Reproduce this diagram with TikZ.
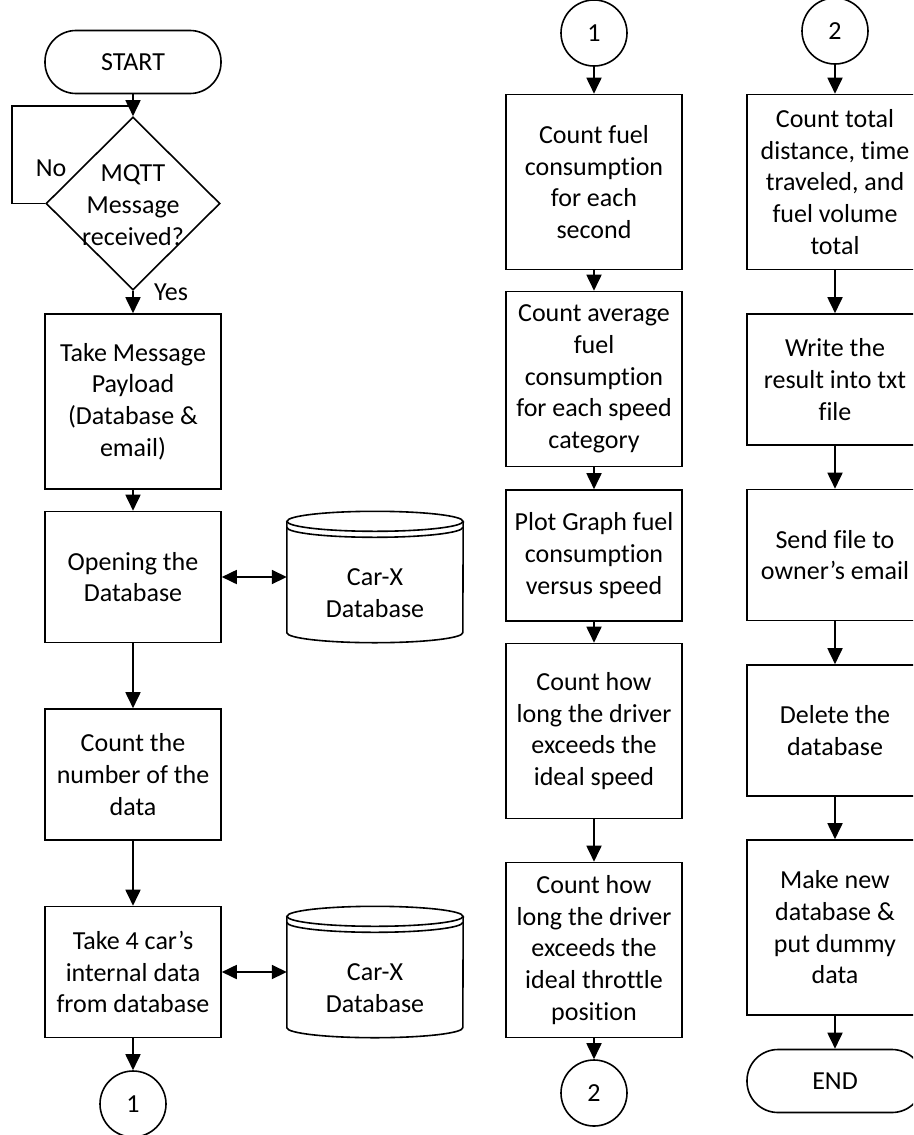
\documentclass[tikz,border=0pt]{standalone}
\usepackage{fontspec}
\setmainfont{Carlito}[Ligatures=NoCommon]
\usetikzlibrary{shapes.geometric,arrows.meta}

\begin{document}
\begin{tikzpicture}[x=1pt,y=-1pt,
  every node/.style={font=\fontsize{26}{31.7}\selectfont, align=center, inner sep=0pt},
  proc/.style={draw, line width=1.6pt, rectangle, minimum width=176pt},
  tall/.style={proc, minimum height=175pt},
  short/.style={proc, minimum height=131pt},
  term/.style={draw, line width=1.6pt, rectangle, rounded corners=31pt, minimum width=176pt, minimum height=63pt},
  conn/.style={draw, line width=1.6pt, circle, minimum size=66pt},
  dbbox/.style={rectangle, minimum width=176pt, minimum height=131pt},
  flow/.style={line width=1.8pt, -{Triangle[width=15pt,length=16pt]}},
  both/.style={line width=1.8pt, {Triangle[width=14pt,length=15pt]}-{Triangle[width=14pt,length=15pt]}},
  lbl/.style={font=\fontsize{26}{31.7}\selectfont}
]
\useasboundingbox (0,0) rectangle (913,1135);
\clip (0,0) rectangle (913,1135);

% ---------- left column ----------
\node[term] (start) at (133,62) {START};
\node[draw, line width=1.6pt, diamond, minimum width=174pt, minimum height=173pt] (dec) at (133,203.5) {};
\node (dectext) at (133,205) {MQTT\\Message\\received?};
\node[tall] (b1) at (133,401.5) {Take Message\\Payload\\(Database \&\\email)};
\node[short] (b2) at (133,577) {Opening the\\Database};
\node[short] (b3) at (133,774.5) {Count the\\number of the\\data};
\node[short] (b4) at (133,972) {Take 4 car’s\\internal data\\from database};
\node[conn] (c1) at (133,1104) {1};

\node[lbl] (no) at (51,168) {No};
\node[lbl] (yes) at (171,292) {Yes};

\coordinate (loopL) at (12,203.5);
\coordinate (join) at (133,106);

% databases
\node[dbbox] (db1) at (375,577) {};
\node[dbbox] (db2) at (375,972) {};
\foreach \n in {db1,db2} {
  \draw[line width=1.6pt] ([yshift=-10pt]\n.north) ellipse [x radius=88pt, y radius=10pt];
  \draw[line width=1.6pt] ([yshift=-16pt]\n.north west) arc[start angle=180, end angle=360, x radius=88pt, y radius=10pt];
  \draw[line width=1.6pt] ([yshift=-10pt]\n.north west) -- ([yshift=10pt]\n.south west)
     arc[start angle=180, end angle=360, x radius=88pt, y radius=10pt] -- ([yshift=-10pt]\n.north east);
}
\node (db1text) at ([yshift=-16pt]db1.center) {Car-X\\Database};
\node (db2text) at ([yshift=-16pt]db2.center) {Car-X\\Database};

% ---------- middle column ----------
\node[conn] (m0) at (594,33) {1};
\node[tall] (mA) at (594,182) {Count fuel\\consumption\\for each\\second};
\node[tall] (mB) at (594,379) {Count average\\fuel\\consumption\\for each speed\\category};
\node[short] (mC) at (594,555.5) {Plot Graph fuel\\consumption\\versus speed};
\node[tall] (mD) at (594,731) {Count how\\long the driver\\exceeds the\\ideal speed};
\node[tall] (mE) at (594,950) {Count how\\long the driver\\exceeds the\\ideal throttle\\position};
\node[conn] (m2) at (594,1093) {2};

% ---------- right column ----------
\node[conn] (r0) at (835,31) {2};
\node[tall] (rA) at (835,182) {Count total\\distance, time\\traveled, and\\fuel volume\\total};
\node[short] (rB) at (835,379.5) {Write the\\result into txt\\file};
\node[short] (rC) at (835,555) {Send file to\\owner’s email};
\node[short] (rD) at (835,730.5) {Delete the\\database};
\node[tall] (rE) at (835,927.5) {Make new\\database \&\\put dummy\\data};
\node[term] (end) at (835,1081) {END};

% ---------- connectors ----------
\draw[flow] (start) -- (dec);
\draw[line width=1.8pt] (dec.west) -- (loopL) |- (join);
\draw[flow] (dec) -- (b1);
\draw[flow] (b1) -- (b2);
\draw[flow] (b2) -- (b3);
\draw[flow] (b3) -- (b4);
\draw[flow] (b4) -- (c1);
\draw[both] (b2.east) -- (db1.west);
\draw[both] (b4.east) -- (db2.west);

\draw[flow] (m0) -- (mA);
\draw[flow] (mA) -- (mB);
\draw[flow] (mB) -- (mC);
\draw[flow] (mC) -- (mD);
\draw[flow] (mD) -- (mE);
\draw[flow] (mE) -- (m2);

\draw[flow] (r0) -- (rA);
\draw[flow] (rA) -- (rB);
\draw[flow] (rB) -- (rC);
\draw[flow] (rC) -- (rD);
\draw[flow] (rD) -- (rE);
\draw[flow] (rE) -- (end);
\end{tikzpicture}
\end{document}
